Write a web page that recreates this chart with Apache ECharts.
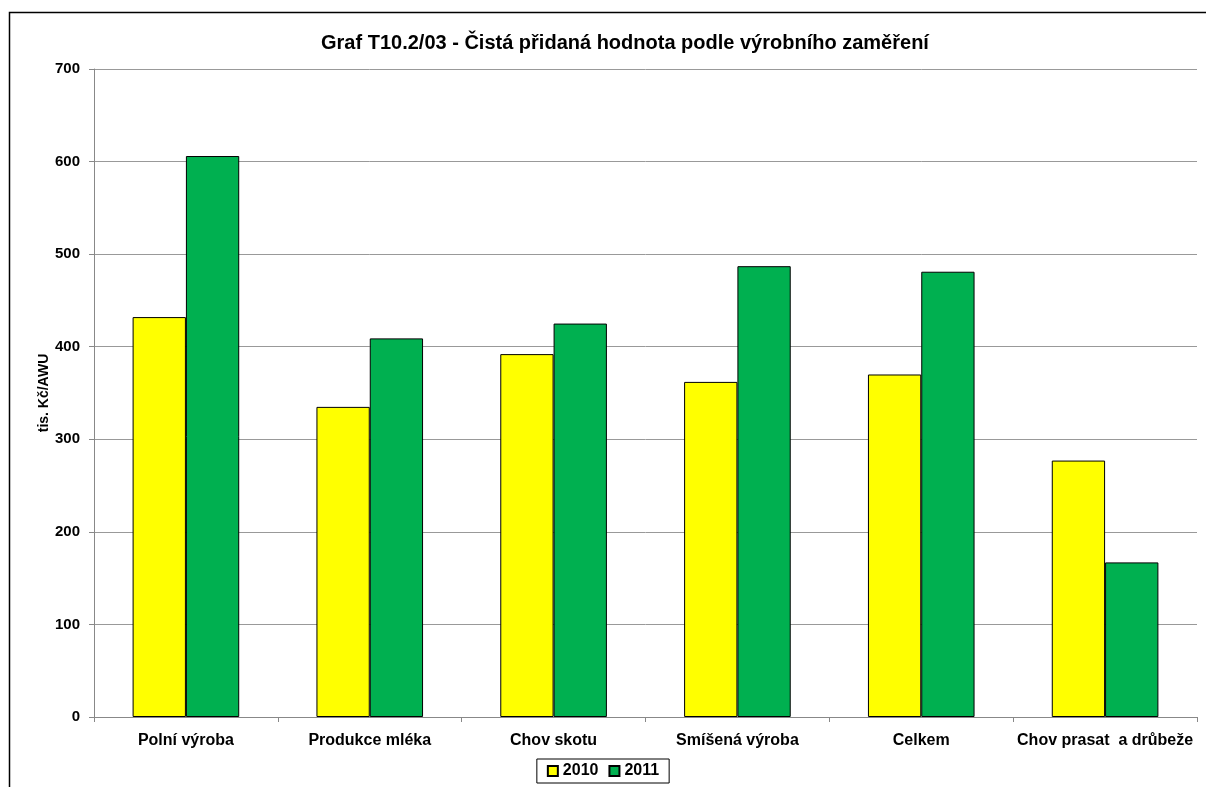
<!DOCTYPE html>
<html>
<head>
<meta charset="utf-8">
<script src="https://cdn.jsdelivr.net/npm/echarts@6/dist/echarts.min.js"></script>
<style>
  html, body { margin: 0; padding: 0; background: #fff; }
  #chart { width: 1206px; height: 787px; }
</style>
</head>
<body>
<div id="chart"></div>
<script>
const categories = ['Polní výroba', 'Produkce mléka', 'Chov skotu', 'Smíšená výroba', 'Celkem', 'Chov prasat  a drůbeže']
const values2010 = [432, 335, 392, 362, 370, 277]
const values2011 = [606, 409, 425, 487, 481, 167]
const seriesNames = ['2010', '2011']

const myChart = echarts.init(document.getElementById('chart'))
const font = 'Liberation Sans, Arial, sans-serif'
const labelStyle = { color: '#000', fontWeight: 'bold', fontSize: 15, fontFamily: font }

const option = {
  animation: false,
  graphic: [{
    type: 'rect',
    shape: { x: 9.5, y: 12.5, width: 1300, height: 900 },
    style: { fill: 'none', stroke: '#000', lineWidth: 1.5 },
    silent: true
  }],
  title: {
    text: 'Graf T10.2/03 - Čistá přidaná hodnota podle výrobního zaměření',
    left: 316,
    top: 28,
    textStyle: { color: '#000', fontWeight: 'bold', fontSize: 20, fontFamily: font }
  },
  legend: {
    data: seriesNames,
    bottom: 4,
    left: 'center',
    itemWidth: 10,
    itemHeight: 10,
    itemGap: 10,
    padding: [4, 10],
    borderColor: '#000',
    borderWidth: 1,
    icon: 'rect',
    textStyle: { color: '#000', fontWeight: 'bold', fontSize: 16, fontFamily: font }
  },
  grid: { left: 94, right: 9, top: 69, bottom: 70 },
  xAxis: {
    type: 'category',
    data: categories,
    axisLine: { lineStyle: { color: '#888' } },
    axisTick: { show: true, length: 5, lineStyle: { color: '#888' } },
    axisLabel: Object.assign({}, labelStyle, { margin: 16, fontSize: 16, interval: 0 })
  },
  yAxis: {
    type: 'value',
    min: 0,
    max: 700,
    interval: 100,
    name: 'tis. Kč/AWU',
    nameLocation: 'middle',
    nameGap: 43,
    nameMoveOverlap: false,
    nameTextStyle: Object.assign({}, labelStyle, { fontSize: 14 }),
    axisLine: { show: true, lineStyle: { color: '#888' } },
    axisTick: { show: true, length: 5, lineStyle: { color: '#888' } },
    axisLabel: Object.assign({ margin: 14 }, labelStyle),
    splitLine: { lineStyle: { color: '#999' } }
  },
  series: [
    {
      name: seriesNames[0],
      type: 'bar',
      data: values2010,
      barGap: '0%',
      barCategoryGap: '42%',
      itemStyle: { color: '#FFFF00', borderColor: '#000', borderWidth: 1 }
    },
    {
      name: seriesNames[1],
      type: 'bar',
      data: values2011,
      itemStyle: { color: '#00B050', borderColor: '#000', borderWidth: 1 }
    }
  ]
}
myChart.setOption(option)
</script>
</body>
</html>
